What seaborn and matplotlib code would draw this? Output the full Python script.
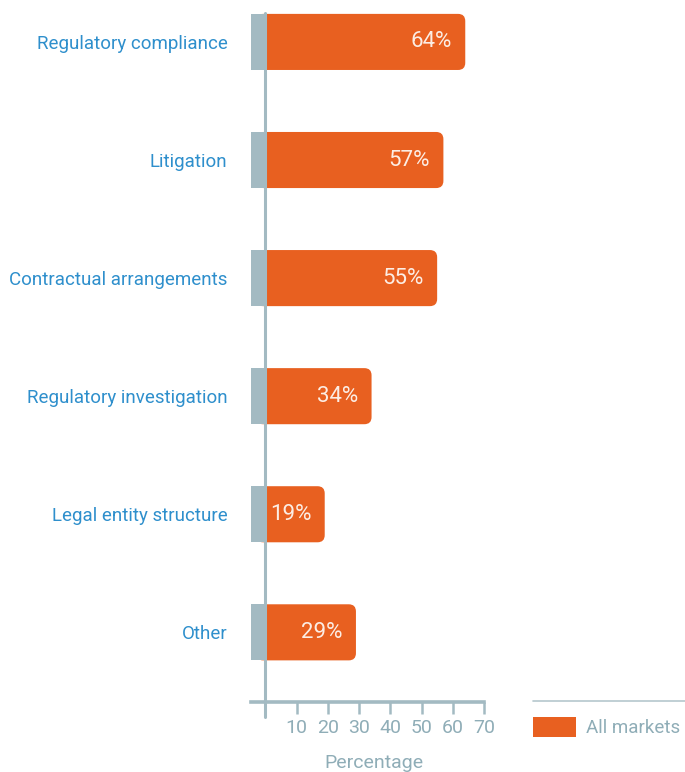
import matplotlib
matplotlib.use("Agg")
import matplotlib.pyplot as plt
from matplotlib.patches import FancyBboxPatch, Rectangle, Patch
from matplotlib.lines import Line2D
import seaborn as sns
import pandas as pd

categories = [
    "Regulatory compliance",
    "Litigation",
    "Contractual arrangements",
    "Regulatory investigation",
    "Legal entity structure",
    "Other",
]
values = [64, 57, 55, 34, 19, 29]
x_ticks = [10, 20, 30, 40, 50, 60, 70]
series_name = "All markets"
x_title = "Percentage"

ORANGE = "#E86020"
STUB = "#A3BAC2"
AXIS = "#A3BAC2"
LABEL_BLUE = "#2E8FCC"
TICK_GREY = "#8FADB7"
VALUE_TXT = "#FCEDE4"

sns.set_theme(style="white")
plt.rcParams["font.family"] = ["Roboto", "DejaVu Sans"]

df = pd.DataFrame({"category": categories, "value": values})

fig = plt.figure(figsize=(6.85, 7.72), dpi=100)
W, H = 685, 772
ax = fig.add_axes([251 / W, 1 - 702 / H, (484 - 251) / W, (702 - 13) / H])

sns.barplot(data=df, x="value", y="category", orient="h", color=ORANGE,
            width=0.475, saturation=1, ax=ax)

x_min, x_max = -4.6, 70
ax.set_xlim(x_min, x_max)
ax.set_ylim(5.59, -0.245)

# swap the square bars for bars with rounded right ends, plus a grey stub left of zero
aspect = (233 / (x_max - x_min)) / (689 / (5.59 + 0.245))
for p in list(ax.patches):
    x, y, w, h = p.get_x(), p.get_y(), p.get_width(), p.get_height()
    p.remove()
    ax.add_patch(FancyBboxPatch((x - 3, y), w + 3, h,
                                boxstyle="round,pad=0,rounding_size=2.3",
                                mutation_aspect=aspect, fc=ORANGE, ec="none",
                                zorder=2))
    ax.add_patch(Rectangle((x_min, y), -x_min, h, fc=STUB, ec="none", zorder=3))

for i, v in enumerate(values):
    ax.text(v - 4.2, i, f"{v}%", ha="right", va="center", fontsize=16,
            color=VALUE_TXT, zorder=5)

# zero line running the full height, dropping just below the axis
ax.axvline(0, ymin=-0.022, ymax=1, color=AXIS, lw=2.2, clip_on=False, zorder=4)

for s in ["top", "right", "left"]:
    ax.spines[s].set_visible(False)
ax.spines["bottom"].set_color(AXIS)
ax.spines["bottom"].set_linewidth(2.6)

ax.set_xticks(x_ticks)
ax.set_xticklabels([str(t) for t in x_ticks])
ax.tick_params(axis="x", length=8.5, width=1.8, color=AXIS, pad=4,
               labelsize=14, labelcolor=TICK_GREY, direction="out", bottom=True)
ax.tick_params(axis="y", length=0, pad=17, labelsize=13.5, labelcolor=LABEL_BLUE)
ax.set_ylabel("")
ax.set_xlabel(x_title, fontsize=14, color=TICK_GREY, labelpad=6)
ax.xaxis.set_label_coords((374 - 251) / 233, -0.075)

fig.add_artist(Line2D([533 / W, 1], [1 - 701 / H] * 2, transform=fig.transFigure,
                      color="#B5C7CD", lw=1.2))
ax.legend(handles=[Patch(fc=ORANGE, ec="none", label=series_name)],
          loc="upper left", bbox_to_anchor=(533 / W, 1 - 717 / H),
          bbox_transform=fig.transFigure, frameon=False, fontsize=13.5,
          handlelength=2.3, handleheight=1.25, handletextpad=0.5,
          borderpad=0, borderaxespad=0, labelcolor=TICK_GREY)

fig.savefig("out.png", dpi=100)
